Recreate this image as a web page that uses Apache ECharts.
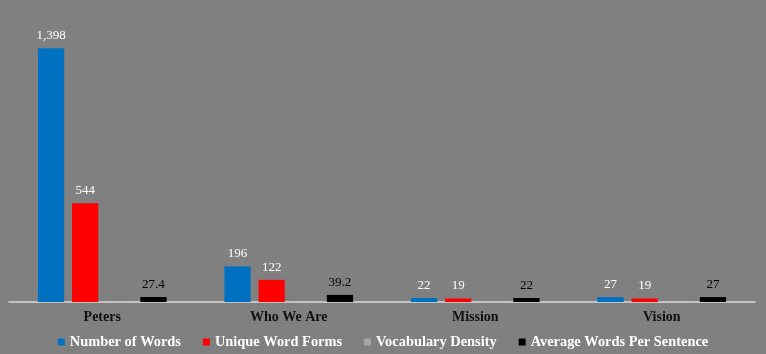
<!DOCTYPE html>
<html><head><meta charset="utf-8">
<script src="https://cdn.jsdelivr.net/npm/echarts@6/dist/echarts.min.js"></script>
<style>html,body{margin:0;padding:0;background:#808080;}#c{width:766px;height:354px;}</style>
</head><body><div id="c"></div>
<script>
var categories = ['Peters', 'Who We Are', 'Mission', 'Vision'];
var numberOfWords = [1398, 196, 22, 27];
var uniqueWordForms = [544, 122, 19, 19];
var vocabularyDensity = [0.39, 0.62, 0.86, 0.7];
var avgWordsPerSentence = [27.4, 39.2, 22, 27];
var numberLabels = ['1,398', '196', '22', '27'];

var serif = '"Liberation Serif", "DejaVu Serif", serif';
var chart = echarts.init(document.getElementById('c'));
function lbl(color, texts) {
  return {show: true, position: 'top', color: color, fontFamily: serif, fontSize: 13, distance: 6,
    formatter: function (p) { return texts ? texts[p.dataIndex] : String(p.value); }};
}
chart.setOption({
  backgroundColor: '#808080',
  animation: false,
  grid: {left: 9, right: 11, top: 11.5, bottom: 52},
  legend: {
    bottom: 0, left: 'center', itemWidth: 7, itemHeight: 7, itemGap: 22, icon: 'rect',
    textStyle: {color: '#ffffff', fontFamily: serif, fontWeight: 'bold', fontSize: 14.4},
    data: ['Number of Words', 'Unique Word Forms', 'Vocabulary Density', 'Average Words Per Sentence']
  },
  xAxis: {
    type: 'category', data: categories,
    axisLine: {lineStyle: {color: '#d9d9d9', width: 1.5}},
    axisTick: {show: false},
    axisLabel: {color: '#111', fontFamily: serif, fontWeight: 'bold', fontSize: 14, margin: 8}
  },
  yAxis: {type: 'value', min: 0, max: 1600, show: false, splitLine: {show: false}},
  series: [
    {name: 'Number of Words', type: 'bar', data: numberOfWords, itemStyle: {color: '#0070c0'},
      barGap: '30%', barCategoryGap: '31%', label: lbl('#ffffff', numberLabels)},
    {name: 'Unique Word Forms', type: 'bar', data: uniqueWordForms, itemStyle: {color: '#ff0000'},
      label: lbl('#ffffff')},
    {name: 'Vocabulary Density', type: 'bar', data: vocabularyDensity, itemStyle: {color: '#a6a6a6'},
      label: {show: false}},
    {name: 'Average Words Per Sentence', type: 'bar', data: avgWordsPerSentence, itemStyle: {color: '#000000'},
      label: lbl('#000000')}
  ]
});
</script></body></html>
